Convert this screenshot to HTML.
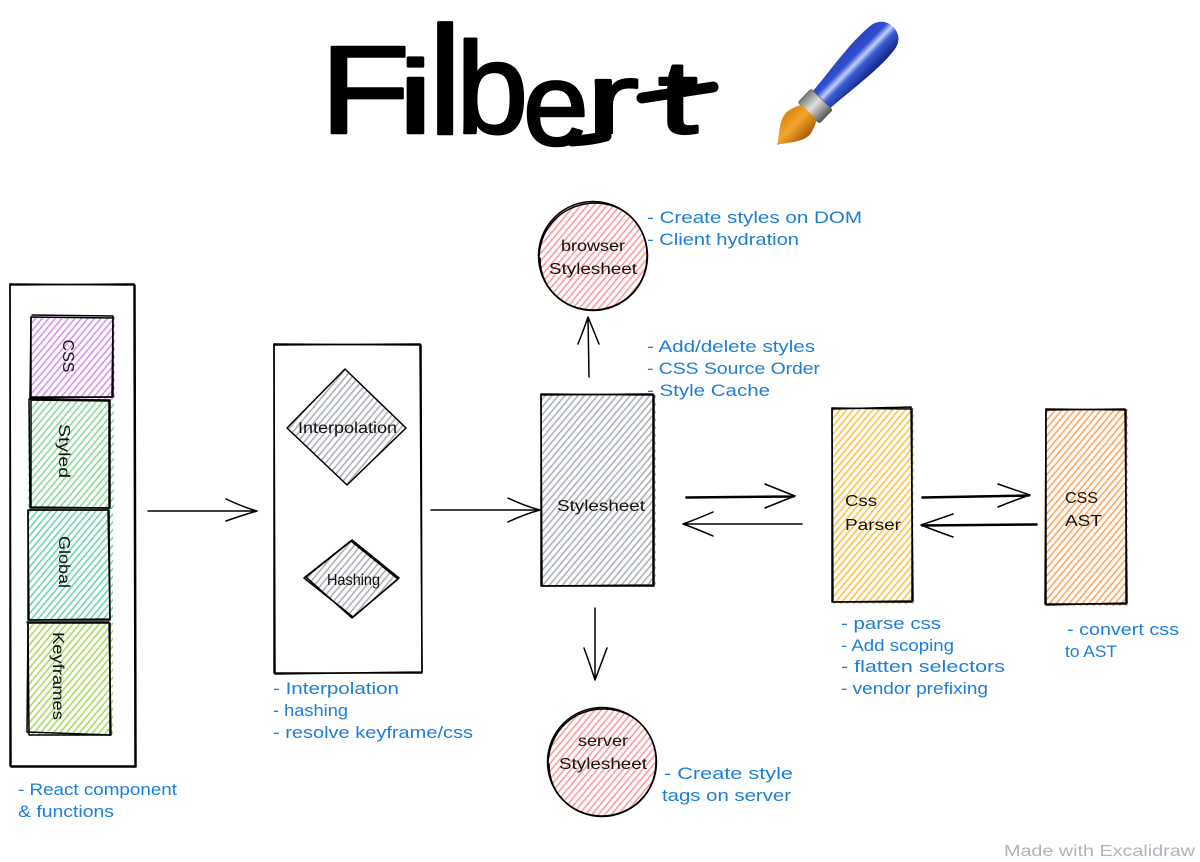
<!DOCTYPE html>
<html><head><meta charset="utf-8"><title>Filbert</title>
<style>
html,body{margin:0;padding:0;background:#fff}
svg{display:block}
text{font-family:"Liberation Sans",sans-serif}
.b{fill:#1c7ed6;font-size:17px}
.k{fill:#111;font-size:16px}
.t{fill:#000;stroke:#000;stroke-width:2.5;stroke-linejoin:round}
.s{fill:none;stroke:#000;stroke-width:1.5;stroke-linecap:round;stroke-linejoin:round}
</style></head><body>
<svg width="1200" height="862" viewBox="0 0 1200 862" xmlns="http://www.w3.org/2000/svg">
<defs>
<pattern id="pu" patternUnits="userSpaceOnUse" width="5" height="5" patternTransform="rotate(-50)"><line x1="0" y1="2" x2="5" y2="2" stroke="#be4bdb" stroke-opacity=".65" stroke-width="1.5"/></pattern>
<pattern id="gr" patternUnits="userSpaceOnUse" width="5" height="5" patternTransform="rotate(-50)"><line x1="0" y1="2" x2="5" y2="2" stroke="#40c057" stroke-opacity=".65" stroke-width="1.5"/></pattern>
<pattern id="te" patternUnits="userSpaceOnUse" width="5" height="5" patternTransform="rotate(-50)"><line x1="0" y1="2" x2="5" y2="2" stroke="#12b886" stroke-opacity=".65" stroke-width="1.5"/></pattern>
<pattern id="li" patternUnits="userSpaceOnUse" width="5" height="5" patternTransform="rotate(-50)"><line x1="0" y1="2" x2="5" y2="2" stroke="#82c91e" stroke-opacity=".75" stroke-width="1.5"/></pattern>
<pattern id="gy" patternUnits="userSpaceOnUse" width="5" height="5" patternTransform="rotate(-50)"><line x1="0" y1="2" x2="5" y2="2" stroke="#868e96" stroke-opacity=".75" stroke-width="1.5"/></pattern>
<pattern id="re" patternUnits="userSpaceOnUse" width="5" height="5" patternTransform="rotate(-50)"><line x1="0" y1="2" x2="5" y2="2" stroke="#fa5252" stroke-opacity=".62" stroke-width="1.5"/></pattern>
<pattern id="ye" patternUnits="userSpaceOnUse" width="5" height="5" patternTransform="rotate(-50)"><line x1="0" y1="2" x2="5" y2="2" stroke="#fab005" stroke-opacity=".8" stroke-width="1.5"/></pattern>
<pattern id="or" patternUnits="userSpaceOnUse" width="5" height="5" patternTransform="rotate(-50)"><line x1="0" y1="2" x2="5" y2="2" stroke="#fd7e14" stroke-opacity=".75" stroke-width="1.5"/></pattern>
<linearGradient id="hg" x1="0" y1="0" x2="0" y2="1"><stop offset="0" stop-color="#2a45c0"/><stop offset=".3" stop-color="#2f50d0"/><stop offset=".47" stop-color="#c3cff8"/><stop offset=".62" stop-color="#3a5cd6"/><stop offset="1" stop-color="#14237f"/></linearGradient>
<linearGradient id="fg" x1="0" y1="0" x2="0" y2="1"><stop offset="0" stop-color="#777"/><stop offset=".45" stop-color="#e0e0e0"/><stop offset="1" stop-color="#555"/></linearGradient>
<linearGradient id="bg" x1="0" y1="0" x2="0" y2="1"><stop offset="0" stop-color="#d9840f"/><stop offset=".45" stop-color="#f5a52c"/><stop offset="1" stop-color="#a85a08"/></linearGradient>
</defs>

<!-- title: real text, one letter at a time -->
<text class="t" x="320" y="133" font-size="125" textLength="90" lengthAdjust="spacingAndGlyphs">F</text>
<text class="t" x="398" y="133" font-size="104" textLength="35" lengthAdjust="spacingAndGlyphs">i</text>
<text class="t" x="428" y="134" font-size="154">l</text>
<text class="t" x="456" y="133" font-size="130">b</text>
<text class="t" x="523" y="145" font-size="118">e</text>
<text class="t" x="586" y="133" font-size="100" textLength="53" lengthAdjust="spacingAndGlyphs">r</text>
<text class="t" x="658" y="133" font-size="104" textLength="40" lengthAdjust="spacingAndGlyphs">t</text>
<path d="M572,141Q592,140 606,136M642,98L713,87" fill="none" stroke="#000" stroke-width="11" stroke-linecap="round"/>

<g transform="translate(777,145) rotate(-45.5)">
<path d="M62,-12C90,-14 125,-20 150,-17C171,-15 171,15 150,17C125,20 90,14 62,12Z" fill="url(#hg)"/>
<rect x="45" y="-15" width="19" height="30" rx="2" fill="url(#fg)" stroke="#555" stroke-width=".6"/>
<path d="M0,0C8,-4 20,-18 32,-16C40,-14 46,-11 46,-10L46,10C46,11 40,14 32,16C20,18 8,4 0,0Z" fill="url(#bg)"/>
</g>

<!-- left stack -->
<path class="s" d="M10,284L135,285L136,767L11,767Z"/><path class="s" d="M11,285L134,284L135,766L10,766L10,284"/>
<rect x="31" y="317" width="84" height="82" fill="url(#pu)"/>
<path class="s" d="M31,317L113,318L113,397L31,397Z"/><path class="s" d="M32,315L113,316L112,397L30,398L31,317"/>
<rect x="28" y="399" width="86" height="110" fill="url(#gr)"/>
<path class="s" d="M29,399L110,400L110,508L30,508Z"/><path class="s" d="M31,400L109,401L109,508L31,507L31,400"/>
<rect x="28" y="510" width="85" height="110" fill="url(#te)"/>
<path class="s" d="M28,510L109,510L110,620L29,620Z"/><path class="s" d="M28,510L108,510L110,619L28,620L28,510"/>
<rect x="27" y="622" width="86" height="114" fill="url(#li)"/>
<path class="s" d="M28,623L110,623L110,735L29,735Z"/><path class="s" d="M27,622L109,622L111,735L27,732L28,622"/>
<text class="k" transform="translate(63,356) rotate(90)" text-anchor="middle" textLength="33" lengthAdjust="spacingAndGlyphs">CSS</text>
<text class="k" transform="translate(59,451) rotate(90)" text-anchor="middle" textLength="54" lengthAdjust="spacingAndGlyphs">Styled</text>
<text class="k" transform="translate(59,562) rotate(90)" text-anchor="middle" textLength="52" lengthAdjust="spacingAndGlyphs">Global</text>
<text class="k" transform="translate(53,676) rotate(90)" text-anchor="middle" textLength="88" lengthAdjust="spacingAndGlyphs">Keyframes</text>

<path class="s" d="M148,511L257,511M226,499Q243,507 257,511Q243,515 226,521"/>

<!-- middle rect -->
<path class="s" d="M274,344L421,345L422,673L274,673Z"/><path class="s" d="M275,345L420,344L422,672L275,674L274,344"/>
<path d="M345,369L406,428L347,485L287,428Z" fill="url(#gy)"/>
<path class="s" d="M345,369L406,428L347,485L287,428Z"/>
<text class="k" x="298" y="433" textLength="99" lengthAdjust="spacingAndGlyphs">Interpolation</text>
<path d="M352,540L399,578L353,617L304,578Z" fill="url(#gy)"/>
<path class="s" d="M352,540L399,578L353,617L304,578Z"/><path class="s" d="M351,541L398,579L352,618L306,577L351,541"/>
<text class="k" x="327" y="585" textLength="53" lengthAdjust="spacingAndGlyphs">Hashing</text>
<path class="s" d="M431,510L540,510M508,498Q525,506 540,510Q525,514 508,522"/>

<!-- stylesheet -->
<rect x="541" y="394" width="115" height="193" fill="url(#gy)"/>
<path class="s" d="M541,394L654,395L654,586L542,586Z"/><path class="s" d="M542,395L653,394L653,585L541,586L541,394"/>
<text class="k" x="557" y="511" textLength="88" lengthAdjust="spacingAndGlyphs">Stylesheet</text>
<path class="s" d="M589,377L588,317M578,344Q584,329 588,317Q593,329 599,344"/>
<path class="s" d="M595,608L595,680M584,648Q590,664 595,680Q601,664 607,648"/>

<!-- circles -->
<circle cx="593" cy="256" r="54" fill="url(#re)"/>
<circle class="s" cx="593" cy="256" r="54.5"/>
<path class="s" d="M539,258C540,225 565,203 596,203C627,204 648,228 647,257C646,288 622,310 592,310C563,309 540,288 540,258"/>
<text class="k" x="561" y="251" textLength="64" lengthAdjust="spacingAndGlyphs">browser</text>
<text class="k" x="549" y="274" textLength="88" lengthAdjust="spacingAndGlyphs">Stylesheet</text>
<circle cx="602" cy="762" r="54" fill="url(#re)"/>
<circle class="s" cx="602" cy="762" r="54.5"/>
<path class="s" d="M548,764C549,731 574,708 605,709C636,710 657,734 656,763C655,794 631,816 601,816C572,815 549,794 549,764"/>
<text class="k" x="578" y="746" textLength="50" lengthAdjust="spacingAndGlyphs">server</text>
<text class="k" x="559" y="769" textLength="88" lengthAdjust="spacingAndGlyphs">Stylesheet</text>

<!-- connectors -->
<path class="s" d="M686,497L795,496M686,498L794,497M765,484Q782,491 795,496Q782,501 765,508"/>
<path class="s" d="M802,524L683,524M713,512Q697,519 683,524Q697,529 713,536"/>
<path class="s" d="M922,497L1030,495M922,498L1029,496M998,484Q1015,490 1030,495Q1015,500 998,507"/>
<path class="s" d="M1037,524L921,525M1037,525L922,526M953,514Q936,520 921,525Q936,531 953,537"/>

<!-- parser -->
<rect x="832" y="408" width="82" height="196" fill="url(#ye)"/>
<path class="s" d="M832,408L912,409L912,602L833,602Z"/><path class="s" d="M833,409L911,407L913,601L832,602L832,408"/>
<text class="k" x="845" y="506" textLength="32" lengthAdjust="spacingAndGlyphs">Css</text>
<text class="k" x="845" y="530" textLength="56" lengthAdjust="spacingAndGlyphs">Parser</text>

<!-- AST -->
<rect x="1045" y="409" width="83" height="197" fill="url(#or)"/>
<path class="s" d="M1046,409L1126,410L1126,604L1045,604Z"/><path class="s" d="M1047,410L1125,409L1127,603L1046,605L1046,409"/>
<text class="k" x="1065" y="503" textLength="33" lengthAdjust="spacingAndGlyphs">CSS</text>
<text class="k" x="1065" y="526" textLength="37" lengthAdjust="spacingAndGlyphs">AST</text>

<!-- blue notes -->
<text class="b" x="647" y="223" textLength="215" lengthAdjust="spacingAndGlyphs">- Create styles on DOM</text>
<text class="b" x="647" y="245" textLength="152" lengthAdjust="spacingAndGlyphs">- Client hydration</text>
<text class="b" x="647" y="352" textLength="168" lengthAdjust="spacingAndGlyphs">- Add/delete styles</text>
<text class="b" x="647" y="374" textLength="173" lengthAdjust="spacingAndGlyphs">- CSS Source Order</text>
<text class="b" x="647" y="396" textLength="123" lengthAdjust="spacingAndGlyphs">- Style Cache</text>
<text class="b" x="841" y="629" textLength="100" lengthAdjust="spacingAndGlyphs">- parse css</text>
<text class="b" x="841" y="651" textLength="113" lengthAdjust="spacingAndGlyphs">- Add scoping</text>
<text class="b" x="841" y="672" textLength="164" lengthAdjust="spacingAndGlyphs">- flatten selectors</text>
<text class="b" x="841" y="694" textLength="147" lengthAdjust="spacingAndGlyphs">- vendor prefixing</text>
<text class="b" x="1067" y="635" textLength="112" lengthAdjust="spacingAndGlyphs">- convert css</text>
<text class="b" x="1065" y="657" textLength="52" lengthAdjust="spacingAndGlyphs">to AST</text>
<text class="b" x="273" y="694" textLength="126" lengthAdjust="spacingAndGlyphs">- Interpolation</text>
<text class="b" x="273" y="716" textLength="75" lengthAdjust="spacingAndGlyphs">- hashing</text>
<text class="b" x="273" y="738" textLength="200" lengthAdjust="spacingAndGlyphs">- resolve keyframe/css</text>
<text class="b" x="18" y="795" textLength="159" lengthAdjust="spacingAndGlyphs">- React component</text>
<text class="b" x="18" y="817" textLength="96" lengthAdjust="spacingAndGlyphs">&amp; functions</text>
<text class="b" x="664" y="779" textLength="129" lengthAdjust="spacingAndGlyphs">- Create style</text>
<text class="b" x="662" y="801" textLength="129" lengthAdjust="spacingAndGlyphs">tags on server</text>
<text x="1004" y="856" font-size="16" fill="#adb5bd" textLength="191" lengthAdjust="spacingAndGlyphs">Made with Excalidraw</text>
</svg>
</body></html>
